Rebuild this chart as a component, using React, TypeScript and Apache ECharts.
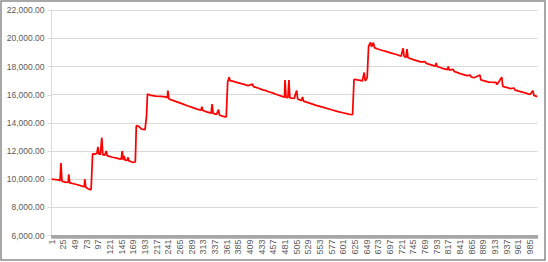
import React, { useEffect, useRef } from "react";
import * as echarts from "echarts";

// x categories 1..1000
const categories: string[] = Array.from({ length: 1000 }, (_, i) => String(i + 1));

// key points of the series (category number, value)
const pointCats: number[] = [
  1, 5, 10, 15, 18, 20, 22, 30, 35, 36, 38, 50, 60, 66, 68, 69, 71, 76, 80, 82,
  85, 86, 90, 94, 96, 98, 101, 104, 106, 110, 113, 115, 120, 126, 135, 140, 144, 146, 148, 150,
  152, 156, 158, 160, 166, 170, 173,
  175, 180, 186, 193, 196, 198, 205, 215, 225, 235, 239, 240, 242, 250, 260, 270, 280, 290,
  300, 308, 310, 312, 320, 329, 331, 333, 340, 344, 346, 352, 358, 360,
  363, 366, 368, 375, 385, 395, 405, 414, 416, 425, 435, 442, 444, 455, 465, 475, 480, 481,
  483, 487, 489, 491, 495, 500, 502, 505, 507, 510, 515, 517, 519, 530, 545, 560, 575, 590,
  600, 610, 618, 620,
  623, 630, 640, 644, 646, 650, 653, 657, 659, 663, 665, 670, 680, 690, 700, 710, 720, 724,
  726, 730, 732, 734, 745, 760, 769, 771, 775, 790, 792, 794, 805, 815, 817, 819, 827, 829,
  840, 855, 862, 864, 870, 882, 884, 900, 915, 917, 927, 929, 945, 952, 954, 960, 975, 985,
  991, 993, 1000,
];
const pointVals: number[] = [
  10000, 9980, 9970, 9950, 9900, 11150, 9850, 9800, 9780, 10350, 9740, 9640, 9540, 9480, 9460, 10000, 9430, 9320, 9250, 9270,
  11750, 11800, 11780, 11850, 12300, 11800, 11750, 12950, 11750, 11700, 12000, 11680, 11620, 11560, 11500, 11450, 11420, 12000, 11380, 11650,
  11350, 11330, 11550, 11300, 11220, 11200, 11250,
  13800, 13750, 13550, 13520, 14500, 16050, 15950, 15900, 15880, 15850, 15800, 16300, 15700, 15600, 15480, 15350, 15220, 15100,
  14980, 14900, 15150, 14880, 14780, 14700, 15340, 14680, 14600, 14950, 14560, 14480, 14430, 14420,
  16900, 17250, 17000, 16950, 16850, 16750, 16650, 16750, 16580, 16480, 16350, 16300, 16250, 16130, 16000, 15880, 15830, 17050,
  15820, 15800, 17050, 15780, 15760, 15740, 16000, 16300, 15700, 15650, 15600, 15850, 15550, 15420, 15250, 15100, 14950, 14800,
  14720, 14640, 14580, 14600,
  17100, 17050, 16980, 17580, 16980, 17200, 19450, 19720, 19400, 19700, 19350, 19270, 19160, 19060, 18960, 18860, 18750, 19300,
  18730, 18650, 19240, 18630, 18500, 18340, 18350, 18250, 18190, 18030, 18250, 18010, 17880, 17780, 18000, 17750, 17800, 17660,
  17520, 17360, 17400, 17270, 17210, 17400, 17060, 16900, 16880, 16720, 17250, 16600, 16440, 16480, 16350, 16280, 16130, 16020,
  16280, 15960, 15870,
];

const yMin = 6000;
const yMax = 22000;
const yStep = 2000;

export default function App() {
  const ref = useRef<HTMLDivElement>(null);
  useEffect(() => {
    document.body.style.margin = "0";
    const chart = echarts.init(ref.current!, null, { renderer: "svg" });
    const data = pointCats.map((c, i) => [c - 1, pointVals[i]]);
    chart.setOption({
      animation: false,
      grid: { left: 51.5, right: 10.5, top: 10.3, bottom: 26.5, containLabel: false },
      graphic: [
        {
          type: "rect",
          shape: { x: 1, y: 1, width: 544, height: 259 },
          style: { fill: "none", stroke: "#8c8c8c", lineWidth: 1.5 },
          silent: true,
        },
      ],
      xAxis: {
        type: "category",
        data: categories,
        boundaryGap: true,
        axisLine: { lineStyle: { color: "#a6a6a6", width: 1 } },
        axisTick: { show: true, interval: 0, length: 3, lineStyle: { color: "#a6a6a6", width: 1 } },
        axisLabel: {
          interval: 23,
          rotate: 90,
          margin: 4,
          fontSize: 9,
          color: "#595959",
          fontFamily: "Liberation Sans",
        },
        splitLine: { show: false },
      },
      yAxis: {
        type: "value",
        min: yMin,
        max: yMax,
        interval: yStep,
        axisLine: { show: true, lineStyle: { color: "#d9d9d9" } },
        axisTick: { show: true, length: 4, lineStyle: { color: "#d9d9d9" } },
        axisLabel: {
          margin: 7,
          fontSize: 8.5,
          color: "#595959",
          fontFamily: "Liberation Sans",
          formatter: (v: number) =>
            v.toLocaleString("en-US", { minimumFractionDigits: 2, maximumFractionDigits: 2 }),
        },
        splitLine: { lineStyle: { color: "#d9d9d9", width: 1 } },
      },
      series: [
        {
          type: "line",
          data,
          showSymbol: false,
          lineStyle: { color: "#ff0000", width: 1.75 },
          itemStyle: { color: "#ff0000" },
        },
      ],
    });
    return () => chart.dispose();
  }, []);
  return <div ref={ref} style={{ width: 548, height: 262 }} />;
}
